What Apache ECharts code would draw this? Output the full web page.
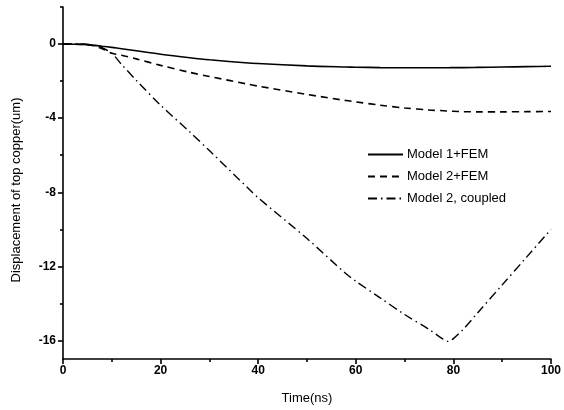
<!DOCTYPE html>
<html>
<head>
<meta charset="utf-8">
<script src="https://cdn.jsdelivr.net/npm/echarts@6/dist/echarts.min.js"></script>
<style>html,body{margin:0;padding:0;background:#fff}#c{width:564px;height:410px}</style>
</head>
<body>
<div id="c"></div>
<script>
const times = [0, 4, 6, 8, 10, 12, 15, 20, 26, 30, 38, 40, 50, 58, 60, 65, 70, 75, 78, 79, 80, 82, 85, 90, 95, 100];
const model1FEM = [0, -0.02, -0.06, -0.12, -0.18, -0.25, -0.36, -0.55, -0.74, -0.85, -1.02, -1.05, -1.18, -1.24, -1.25, -1.27, -1.28, -1.28, -1.28, -1.28, -1.27, -1.27, -1.26, -1.24, -1.22, -1.2];
const model2FEM = [0, -0.02, -0.08, -0.25, -0.5, -0.6, -0.8, -1.15, -1.53, -1.75, -2.17, -2.27, -2.72, -3.05, -3.12, -3.3, -3.45, -3.56, -3.6, -3.62, -3.63, -3.65, -3.66, -3.66, -3.65, -3.64];
const model2Coupled = [0, 0, -0.05, -0.2, -0.5, -1.1, -1.95, -3.3, -4.75, -5.75, -7.8, -8.3, -10.5, -12.4, -12.8, -13.7, -14.6, -15.4, -15.95, -16.05, -15.9, -15.4, -14.5, -13.0, -11.5, -10.0];
const seriesNames = ['Model 1+FEM', 'Model 2+FEM', 'Model 2, coupled'];
const yMajorTicks = [-16, -12, -8, -4, 0];
const yMinorTicks = [-14, -10, -6, -2, 2];
const xMajorTicks = [0, 20, 40, 60, 80, 100];

const pairs = (vals) => times.map((t, i) => [t, vals[i]]);
const FONT = '"Liberation Sans", Arial, sans-serif';

const chart = echarts.init(document.getElementById('c'), null, {renderer: 'canvas'});
chart.setOption({
  animation: false,
  backgroundColor: '#fff',
  grid: {left: 63, right: 11, top: 7, bottom: 50, containLabel: false},
  legend: {
    orient: 'vertical', left: 362, top: 143,
    itemWidth: 35, itemHeight: 14, itemGap: 9,
    itemStyle: {opacity: 0},
    textStyle: {fontFamily: FONT, fontSize: 13, color: '#000', padding: [0, 0, 0, -1]},
    data: seriesNames
  },
  xAxis: [{
    type: 'value', min: 0, max: 100, interval: 20,
    name: 'Time(ns)', nameLocation: 'middle', nameGap: 33,
    nameTextStyle: {fontFamily: FONT, fontSize: 13, color: '#000'},
    axisLine: {show: true, onZero: false, lineStyle: {color: '#000', width: 1.6}},
    axisTick: {show: true, inside: false, length: 5, lineStyle: {color: '#000', width: 1.6}},
    minorTick: {show: true, splitNumber: 2, length: 3, lineStyle: {color: '#000', width: 1.6}},
    axisLabel: {fontFamily: FONT, fontSize: 12, fontWeight: 'bold', color: '#000', margin: 6, customValues: xMajorTicks},
    splitLine: {show: false}
  }],
  yAxis: [{
    type: 'value', min: -17, max: 2, position: 'left',
    name: 'Displacement of top copper(um)', nameLocation: 'middle', nameGap: 40,
    nameTextStyle: {fontFamily: FONT, fontSize: 13, color: '#000', padding: [0, 14, 0, 0]},
    axisLine: {show: true, onZero: false, lineStyle: {color: '#000', width: 1.6}},
    axisTick: {show: true, length: 5, customValues: yMajorTicks, lineStyle: {color: '#000', width: 1.6}},
    axisLabel: {fontFamily: FONT, fontSize: 12, fontWeight: 'bold', color: '#000', margin: 7, customValues: yMajorTicks},
    splitLine: {show: false}
  }, {
    type: 'value', min: -17, max: 2, position: 'left', offset: 0,
    axisLine: {show: false, onZero: false},
    axisTick: {show: true, length: 3, customValues: yMinorTicks, lineStyle: {color: '#000', width: 1.6}},
    axisLabel: {show: false},
    splitLine: {show: false}
  }],
  series: [
    {name: seriesNames[0], type: 'line', data: pairs(model1FEM), symbol: 'none', smooth: 0.3,
     lineStyle: {color: '#000', width: 1.6, type: 'solid'}, itemStyle: {color: '#000'}},
    {name: seriesNames[1], type: 'line', data: pairs(model2FEM), symbol: 'none', smooth: 0.3,
     lineStyle: {color: '#000', width: 1.6, type: [7, 5]}, itemStyle: {color: '#000'}},
    {name: seriesNames[2], type: 'line', data: pairs(model2Coupled), symbol: 'none', smooth: 0.3,
     lineStyle: {color: '#000', width: 1.4, type: [9, 4, 1.5, 4]}, itemStyle: {color: '#000'}}
  ]
});
</script>
</body>
</html>
